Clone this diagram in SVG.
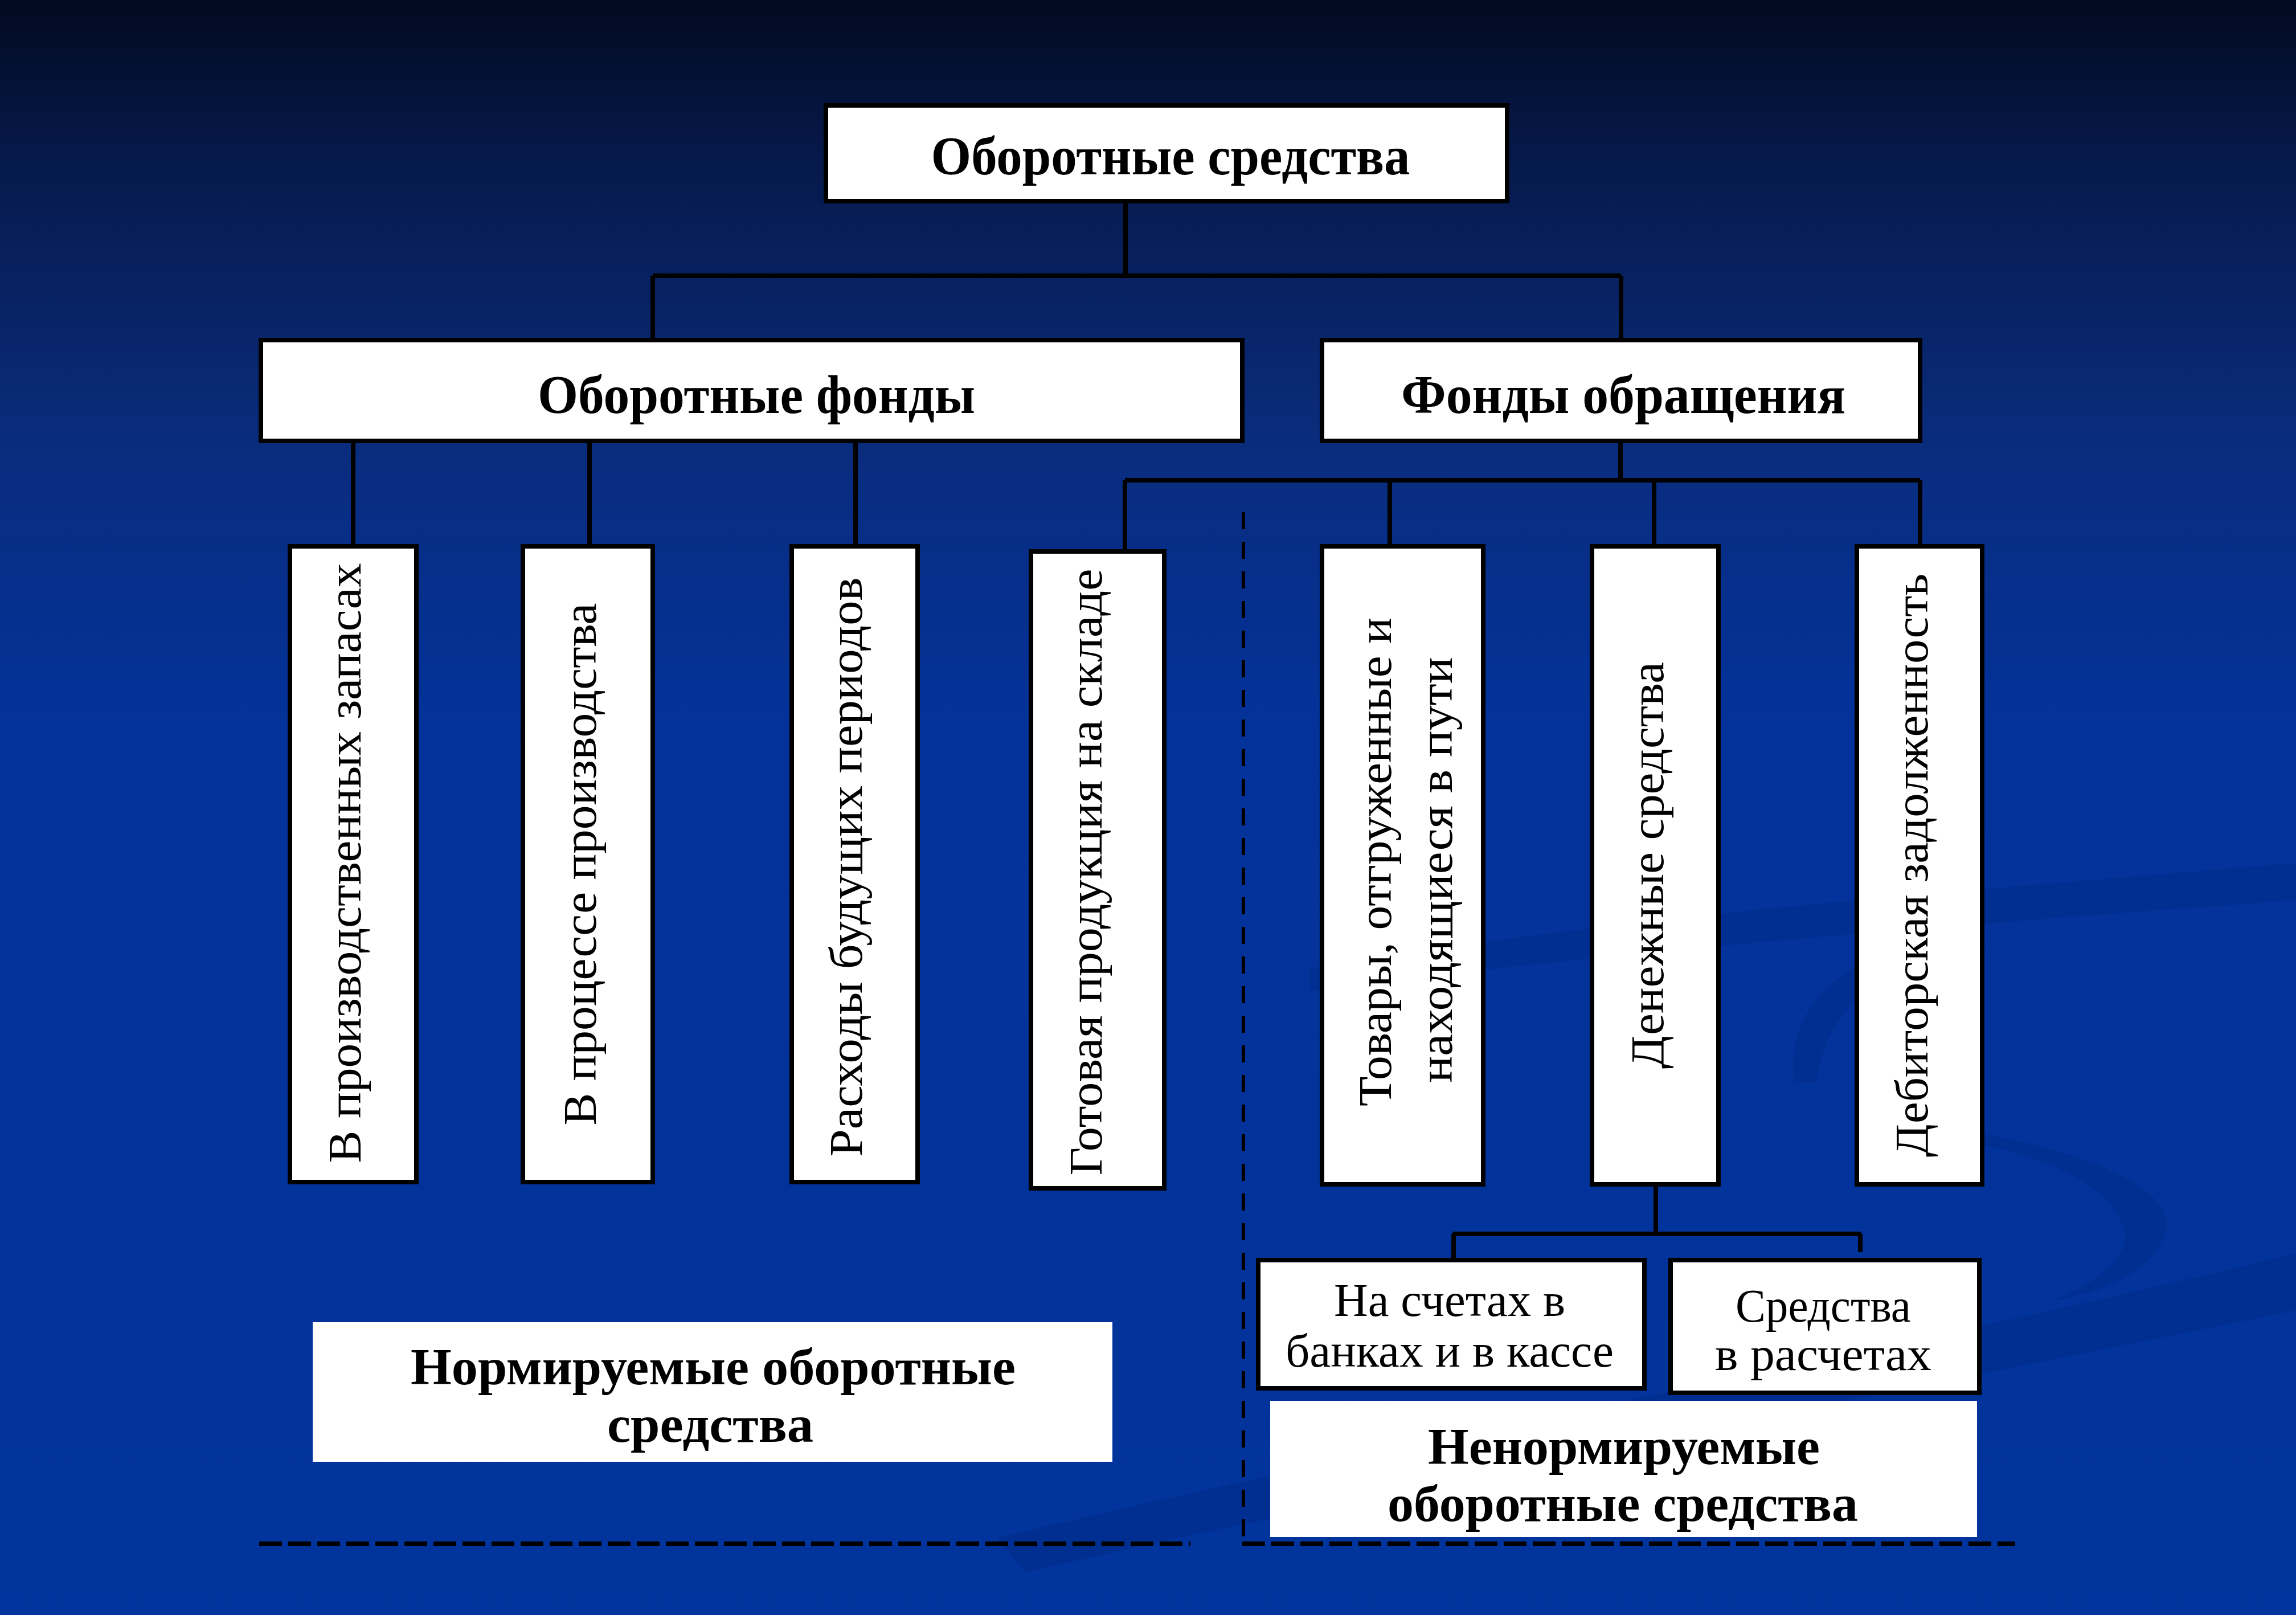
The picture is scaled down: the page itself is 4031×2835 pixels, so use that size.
<svg xmlns="http://www.w3.org/2000/svg" width="4031" height="2835" viewBox="0 0 4031 2835">
<defs>
<linearGradient id="bg" x1="0" y1="0" x2="0" y2="1">
<stop offset="0" stop-color="#020a1f"/>
<stop offset="0.09" stop-color="#061848"/>
<stop offset="0.27" stop-color="#0a2c7c"/>
<stop offset="0.45" stop-color="#03329a"/>
<stop offset="1" stop-color="#01349c"/>
</linearGradient>
<style>
.box{fill:#fff;stroke:#000;stroke-width:8}
.plain{fill:#fff}
.ln{stroke:#000;stroke-width:8;fill:none}
.dh{stroke:#000;stroke-width:8;fill:none;stroke-dasharray:40 11}
.dv{stroke:#000;stroke-width:6;fill:none;stroke-dasharray:30 22}
.b{font-family:"Liberation Serif","Times New Roman",serif;font-weight:bold;font-size:96px;fill:#000;text-anchor:middle}
.b2{font-family:"Liberation Serif","Times New Roman",serif;font-weight:bold;font-size:90px;fill:#000;text-anchor:middle}
.r{font-family:"Liberation Serif","Times New Roman",serif;font-size:82px;fill:#000;text-anchor:middle}
.sw{fill:#002a86;opacity:0.45}
</style>
</defs>
<rect x="0" y="0" width="4031" height="2835" fill="url(#bg)"/>
<g id="background-swooshes">
<path class="sw" d="M2300 1700 C2900 1600 3500 1560 4031 1515 L4031 1580 C3500 1620 2900 1660 2300 1740 Z"/>
<path class="sw" d="M1750 2700 C2500 2520 3300 2380 4031 2200 L4031 2300 C3300 2450 2500 2600 1800 2760 Z"/>
<path class="sw" d="M3480 1990 C3700 2030 3830 2100 3800 2170 C3770 2240 3680 2270 3600 2285 C3690 2250 3740 2200 3730 2160 C3710 2090 3620 2040 3480 2010 Z"/>
<path class="sw" d="M3150 1900 C3130 1760 3250 1660 3480 1620 C3300 1690 3200 1780 3190 1900 Z"/>
</g>
<g id="connectors">
<path class="ln" d="M1976 357 V484 M1146 484 H2846 M1146 484 V593 M2846 484 V593"/>
<path class="ln" d="M620 778 V955 M1035 778 V955 M1502 778 V955"/>
<path class="ln" d="M2845 778 V843 M1975 843 H3371 M1975 843 V964 M2440 843 V955 M2904 843 V955 M3371 843 V955"/>
<path class="ln" d="M2907 2083 V2166 M2550 2166 H3268 M2552 2166 V2208 M3266 2166 V2198"/>
<path class="dv" d="M2183 899 V2706"/>
<path class="dh" d="M455 2710 H2090"/>
<path class="dh" d="M2181 2710 H3538"/>
</g>
<g id="node-oborotnye-sredstva">
<rect class="box" x="1450" y="185" width="1196" height="168"/>
<text class="b" x="2055" y="306" textLength="841" lengthAdjust="spacingAndGlyphs">Оборотные средства</text>
</g>
<g id="node-oborotnye-fondy">
<rect class="box" x="458" y="597" width="1723" height="177"/>
<text class="b" x="1328" y="725" textLength="768" lengthAdjust="spacingAndGlyphs">Оборотные фонды</text>
</g>
<g id="node-fondy-obrashcheniya">
<rect class="box" x="2321" y="597" width="1050" height="177"/>
<text class="b" x="2850" y="725" textLength="780" lengthAdjust="spacingAndGlyphs">Фонды обращения</text>
</g>
<g id="node-zapasy">
<rect class="box" x="509" y="959" width="222" height="1116"/>
<text class="r" transform="translate(633 1515) rotate(-90)" x="0" y="0" textLength="1053" lengthAdjust="spacingAndGlyphs">В производственных запасах</text>
</g>
<g id="node-process">
<rect class="box" x="918" y="959" width="228" height="1116"/>
<text class="r" transform="translate(1046 1517) rotate(-90)" x="0" y="0" textLength="917" lengthAdjust="spacingAndGlyphs">В процессе производства</text>
</g>
<g id="node-raskhody">
<rect class="box" x="1390" y="959" width="221" height="1116"/>
<text class="r" transform="translate(1513 1522) rotate(-90)" x="0" y="0" textLength="1017" lengthAdjust="spacingAndGlyphs">Расходы будущих периодов</text>
</g>
<g id="node-gotovaya">
<rect class="box" x="1810" y="968" width="234" height="1118"/>
<text class="r" transform="translate(1934 1531) rotate(-90)" x="0" y="0" textLength="1065" lengthAdjust="spacingAndGlyphs">Готовая продукция на складе</text>
</g>
<g id="node-tovary">
<rect class="box" x="2321" y="959" width="283" height="1120"/>
<text class="r" transform="translate(2442 1513) rotate(-90)" x="0" y="0" textLength="858" lengthAdjust="spacingAndGlyphs">Товары, отгруженные и</text>
<text class="r" transform="translate(2549 1527) rotate(-90)" x="0" y="0" textLength="747" lengthAdjust="spacingAndGlyphs">находящиеся в пути</text>
</g>
<g id="node-denezhnye">
<rect class="box" x="2795" y="959" width="222" height="1120"/>
<text class="r" transform="translate(2920 1519) rotate(-90)" x="0" y="0" textLength="714" lengthAdjust="spacingAndGlyphs">Денежные средства</text>
</g>
<g id="node-debitorskaya">
<rect class="box" x="3260" y="959" width="220" height="1120"/>
<text class="r" transform="translate(3384 1519) rotate(-90)" x="0" y="0" textLength="1024" lengthAdjust="spacingAndGlyphs">Дебиторская задолженность</text>
</g>
<g id="node-na-schetakh">
<rect class="box" x="2209" y="2212" width="678" height="225"/>
<text class="r" x="2545" y="2310" textLength="406" lengthAdjust="spacingAndGlyphs">На счетах в</text>
<text class="r" x="2545" y="2399" textLength="576" lengthAdjust="spacingAndGlyphs">банках и в кассе</text>
</g>
<g id="node-v-raschetakh">
<rect class="box" x="2933" y="2212" width="542" height="233"/>
<text class="r" x="3201" y="2320" textLength="308" lengthAdjust="spacingAndGlyphs">Средства</text>
<text class="r" x="3201" y="2405" textLength="380" lengthAdjust="spacingAndGlyphs">в расчетах</text>
</g>
<g id="node-normiruemye">
<rect class="plain" x="549" y="2321" width="1404" height="245"/>
<text class="b2" x="1252" y="2430" textLength="1062" lengthAdjust="spacingAndGlyphs">Нормируемые оборотные</text>
<text class="b2" x="1247" y="2531" textLength="362" lengthAdjust="spacingAndGlyphs">средства</text>
</g>
<g id="node-nenormiruemye">
<rect class="plain" x="2230" y="2459" width="1241" height="239"/>
<text class="b2" x="2851" y="2570" textLength="688" lengthAdjust="spacingAndGlyphs">Ненормируемые</text>
<text class="b2" x="2849" y="2670" textLength="826" lengthAdjust="spacingAndGlyphs">оборотные средства</text>
</g>
</svg>
